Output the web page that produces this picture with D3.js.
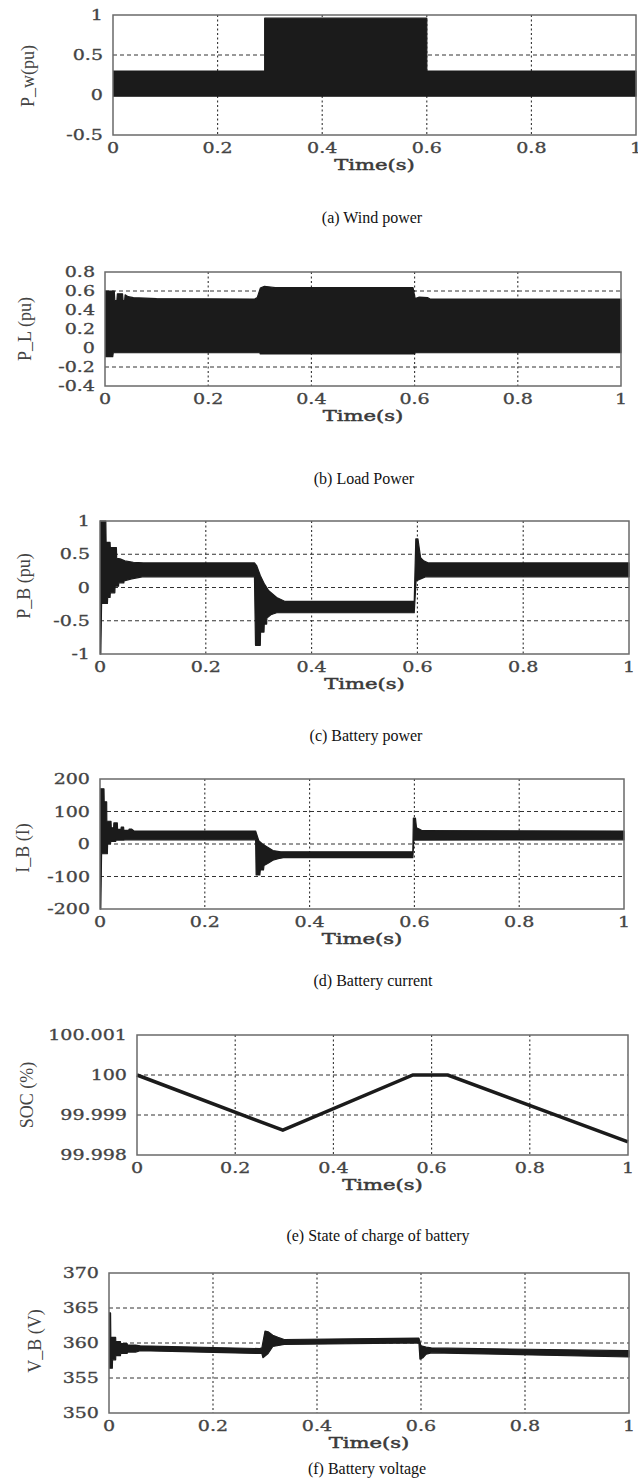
<!DOCTYPE html>
<html><head><meta charset="utf-8">
<script src="https://cdn.jsdelivr.net/npm/d3@7"></script>
<style>body{margin:0;background:#fff}</style>
</head><body>
<svg id="c" width="638" height="1482"></svg>
<script>
// ---------- shared axis data ----------
const xTicks = [0, 0.2, 0.4, 0.6, 0.8, 1];
const xTickLabels = ["0", "0.2", "0.4", "0.6", "0.8", "1"];

// ---------- (a) Wind power: envelope of the oscillating signal ----------
const windTicks = [-0.5, 0, 0.5, 1];
const windTickLabels = ["-0.5", "0", "0.5", "1"];
const windUpT = [0, 0.29, 0.29, 0.6, 0.6, 1];
const windUpV = [0.3, 0.3, 0.96, 0.96, 0.3, 0.3];
const windLoT = [0, 1];
const windLoV = [-0.015, -0.015];

// ---------- (b) Load power ----------
const loadTicks = [-0.4, -0.2, 0, 0.2, 0.4, 0.6, 0.8];
const loadTickLabels = ["-0.4", "-0.2", "0", "0.2", "0.4", "0.6", "0.8"];
const loadUpT = [0, 0.018, 0.019, 0.023, 0.024, 0.034, 0.035, 0.038, 0.039, 0.045, 0.055, 0.1, 0.29, 0.295, 0.301, 0.309, 0.317, 0.33, 0.597, 0.601, 0.609, 0.625, 0.63, 1];
const loadUpV = [0.6, 0.6, 0.5, 0.5, 0.57, 0.57, 0.5, 0.5, 0.56, 0.54, 0.53, 0.52, 0.515, 0.53, 0.63, 0.65, 0.645, 0.635, 0.635, 0.52, 0.535, 0.53, 0.515, 0.515];
const loadLoT = [0, 0.015, 0.016, 0.3, 0.301, 0.6, 0.601, 1];
const loadLoV = [-0.09, -0.09, -0.05, -0.05, -0.062, -0.062, -0.05, -0.05];

// ---------- (c) Battery power ----------
const bpTicks = [-1, -0.5, 0, 0.5, 1];
const bpTickLabels = ["-1", "-0.5", "0", "0.5", "1"];
const bpUpT = [0, 0.011, 0.0115, 0.019, 0.0195, 0.031, 0.0315, 0.038, 0.047, 0.063, 0.082, 0.292, 0.296, 0.303, 0.311, 0.319, 0.334, 0.35, 0.594, 0.597, 0.601, 0.606, 0.612, 0.62, 1];
const bpUpV = [1, 1, 0.68, 0.68, 0.6, 0.6, 0.44, 0.43, 0.4, 0.38, 0.37, 0.37, 0.33, 0.18, 0.05, -0.05, -0.15, -0.21, -0.21, 0.73, 0.73, 0.45, 0.4, 0.37, 0.37];
const bpLoT = [0, 0.0015, 0.003, 0.014, 0.0145, 0.019, 0.0195, 0.028, 0.0285, 0.035, 0.0355, 0.045, 0.0455, 0.06, 0.08, 0.292, 0.294, 0.303, 0.3035, 0.31, 0.3105, 0.315, 0.3155, 0.323, 0.334, 0.594, 0.5975, 0.604, 0.615, 1];
const bpLoV = [-1, -1, -0.24, -0.24, -0.15, -0.15, -0.08, -0.08, 0.02, 0.02, 0.07, 0.07, 0.1, 0.13, 0.16, 0.16, -0.87, -0.87, -0.67, -0.67, -0.55, -0.55, -0.46, -0.41, -0.38, -0.38, 0.1, 0.12, 0.16, 0.16];

// ---------- (d) Battery current ----------
const bcTicks = [-200, -100, 0, 100, 200];
const bcTickLabels = ["-200", "-100", "0", "100", "200"];
const bcUpT = [0, 0.0076, 0.008, 0.0127, 0.013, 0.021, 0.0215, 0.026, 0.0265, 0.033, 0.0335, 0.04, 0.0405, 0.045, 0.0455, 0.055, 0.0555, 0.06, 0.065, 0.297, 0.303, 0.31, 0.32, 0.33, 0.345, 0.597, 0.598, 0.602, 0.604, 0.61, 0.615, 1];
const bcUpV = [170, 170, 130, 130, 70, 70, 50, 50, 65, 65, 45, 45, 52, 52, 42, 42, 46, 46, 40, 40, 10, 0, -10, -20, -24, -24, 80, 80, 50, 45, 41, 40];
const bcLoT = [0, 0.0015, 0.003, 0.014, 0.0145, 0.02, 0.0205, 0.03, 0.0305, 0.045, 0.05, 0.297, 0.298, 0.305, 0.306, 0.312, 0.313, 0.32, 0.33, 0.34, 0.35, 0.597, 0.599, 1];
const bcLoV = [-200, -200, -30, -30, 0, 0, 8, 8, 12, 12, 13, 13, -95, -95, -80, -80, -66, -60, -50, -45, -42, -42, 12, 13];

// ---------- (e) State of charge ----------
const socTicks = [99.998, 99.999, 100, 100.001];
const socTickLabels = ["99.998", "99.999", "100", "100.001"];
const socT = [0, 0.297, 0.562, 0.633, 1];
const socV = [100, 99.99862, 100, 100, 99.99833];

// ---------- (f) Battery voltage ----------
const bvTicks = [350, 355, 360, 365, 370];
const bvTickLabels = ["350", "355", "360", "365", "370"];
const bvUpT = [0, 0.003, 0.0035, 0.0128, 0.013, 0.022, 0.0225, 0.035, 0.0355, 0.051, 0.06, 0.29, 0.294, 0.3, 0.306, 0.315, 0.325, 0.337, 0.596, 0.6, 0.61, 0.62, 1];
const bvUpV = [364.3, 364.3, 360.8, 360.8, 360.2, 360.2, 359.9, 359.9, 359.7, 359.7, 359.6, 359.2, 359.3, 361.7, 361.6, 361.1, 360.8, 360.5, 360.7, 359.6, 359.4, 359.3, 358.9];
const bvLoT = [0, 0.0064, 0.0068, 0.0128, 0.013, 0.022, 0.0225, 0.035, 0.0355, 0.051, 0.06, 0.29, 0.294, 0.296, 0.306, 0.315, 0.337, 0.596, 0.598, 0.604, 0.61, 0.62, 1];
const bvLoV = [356.4, 356.4, 357.6, 357.6, 358.2, 358.2, 358.5, 358.5, 358.7, 358.7, 358.9, 358.5, 358.5, 357.9, 358.5, 359.5, 359.8, 360.0, 357.7, 357.9, 358.4, 358.6, 358.0];

// ---------- layout ----------
const panels = [
  {x0:113, x1:636, y0:15, y1:135, ticks:windTicks, labels:windTickLabels, ylabel:"P_w(pu)", ylx:28, yly:76,
   band:[windUpT, windUpV, windLoT, windLoV], caption:"(a) Wind power", capx:372, capy:217},
  {x0:105, x1:621, y0:272, y1:386, ticks:loadTicks, labels:loadTickLabels, ylabel:"P_L (pu)", ylx:25, yly:329,
   band:[loadUpT, loadUpV, loadLoT, loadLoV], caption:"(b) Load Power", capx:364, capy:478},
  {x0:100, x1:629, y0:521, y1:654, ticks:bpTicks, labels:bpTickLabels, ylabel:"P_B (pu)", ylx:24, yly:586,
   band:[bpUpT, bpUpV, bpLoT, bpLoV], caption:"(c)  Battery power", capx:366, capy:735},
  {x0:100, x1:624, y0:779, y1:909, ticks:bcTicks, labels:bcTickLabels, ylabel:"I_B (I)", ylx:23, yly:848,
   band:[bcUpT, bcUpV, bcLoT, bcLoV], caption:"(d) Battery current", capx:373, capy:980},
  {x0:137, x1:628, y0:1035, y1:1155, ticks:socTicks, labels:socTickLabels, ylabel:"SOC (%)", ylx:27, yly:1095,
   line:[socT, socV], caption:"(e)  State of charge of battery", capx:378, capy:1235},
  {x0:109, x1:629, y0:1273, y1:1413, ticks:bvTicks, labels:bvTickLabels, ylabel:"V_B (V)", ylx:35, yly:1341,
   band:[bvUpT, bvUpV, bvLoT, bvLoV], caption:"(f) Battery voltage", capx:367, capy:1468}
];

const svg = d3.select("#c");
const STRETCH = 1.36;
function stretch(sel){
  sel.each(function(){
    const w = this.getComputedTextLength();
    d3.select(this).attr("textLength", w*STRETCH).attr("lengthAdjust","spacingAndGlyphs");
  });
}

panels.forEach(p => {
  const g = svg.append("g");
  const x = d3.scaleLinear().domain([0,1]).range([p.x0, p.x1]);
  const y = d3.scaleLinear().domain(d3.extent(p.ticks)).range([p.y1, p.y0]);

  // grid
  g.selectAll(".hg").data(p.ticks.slice(1, -1)).join("line")
    .attr("x1", p.x0).attr("x2", p.x1).attr("y1", d=>y(d)).attr("y2", d=>y(d))
    .attr("stroke", "#333").attr("stroke-width", 1).attr("stroke-dasharray", "4,3");
  g.selectAll(".vg").data(xTicks.slice(1, -1)).join("line")
    .attr("x1", d=>x(d)).attr("x2", d=>x(d)).attr("y1", p.y0).attr("y2", p.y1)
    .attr("stroke", "#333").attr("stroke-width", 1.1).attr("stroke-dasharray", "2,2.5");

  // data
  if (p.band) {
    const [tu, vu, tl, vl] = p.band;
    const pts = tu.map((t,i)=>[t, vu[i]]).concat(tl.map((t,i)=>[t, vl[i]]).reverse());
    g.append("path").datum(pts)
      .attr("d", d3.line().x(d=>x(d[0])).y(d=>y(d[1])))
      .attr("fill", "#1b1b1b").attr("stroke", "#1b1b1b").attr("stroke-width", 1.2)
      .attr("stroke-linejoin", "round");
  }
  if (p.line) {
    const [tt, vv] = p.line;
    g.append("path").datum(tt.map((t,i)=>[t, vv[i]]))
      .attr("d", d3.line().x(d=>x(d[0])).y(d=>y(d[1])))
      .attr("fill", "none").attr("stroke", "#1b1b1b").attr("stroke-width", 3.5);
  }

  // box
  g.append("rect").attr("x", p.x0).attr("y", p.y0)
    .attr("width", p.x1 - p.x0).attr("height", p.y1 - p.y0)
    .attr("fill", "none").attr("stroke", "#6a6a6a").attr("stroke-width", 1.5);

  // y tick labels
  g.selectAll(".yt").data(p.ticks).join("text")
    .attr("x", p.x0 - 10).attr("y", d=>y(d)).attr("dy", "0.36em")
    .attr("text-anchor", "end")
    .attr("font-family", "'DejaVu Serif', serif").attr("font-size", 14).attr("fill", "#444")
    .attr("stroke", "#444").attr("stroke-width", 0.3)
    .text((d,i)=>p.labels[i]).call(stretch);

  // x tick labels
  g.selectAll(".xt").data(xTicks).join("text")
    .attr("x", d=>x(d)).attr("y", p.y1 + 13).attr("dy", "0.36em")
    .attr("text-anchor", "middle")
    .attr("font-family", "'DejaVu Serif', serif").attr("font-size", 14).attr("fill", "#444")
    .attr("stroke", "#444").attr("stroke-width", 0.3)
    .text((d,i)=>xTickLabels[i]).call(stretch);

  // x title
  g.append("text").attr("x", (p.x0 + p.x1)/2).attr("y", p.y1 + 29).attr("dy", "0.36em")
    .attr("text-anchor", "middle")
    .attr("font-family", "'DejaVu Serif', serif").attr("font-size", 15.5).attr("fill", "#3a3a3a")
    .attr("stroke", "#3a3a3a").attr("stroke-width", 0.5)
    .text("Time(s)").call(stretch);

  // y title
  g.append("text").attr("transform", `translate(${p.ylx},${p.yly}) rotate(-90)`)
    .attr("text-anchor", "middle").attr("dy", "0.35em")
    .attr("font-family", "'Liberation Serif', serif").attr("font-size", 18).attr("fill", "#444")
    .text(p.ylabel);

  // caption
  svg.append("text").attr("x", p.capx).attr("y", p.capy).attr("dy", "0.35em")
    .attr("text-anchor", "middle")
    .attr("font-family", "'Liberation Serif', serif").attr("font-size", 16).attr("fill", "#111")
    .text(p.caption);
});
</script>
</body></html>
